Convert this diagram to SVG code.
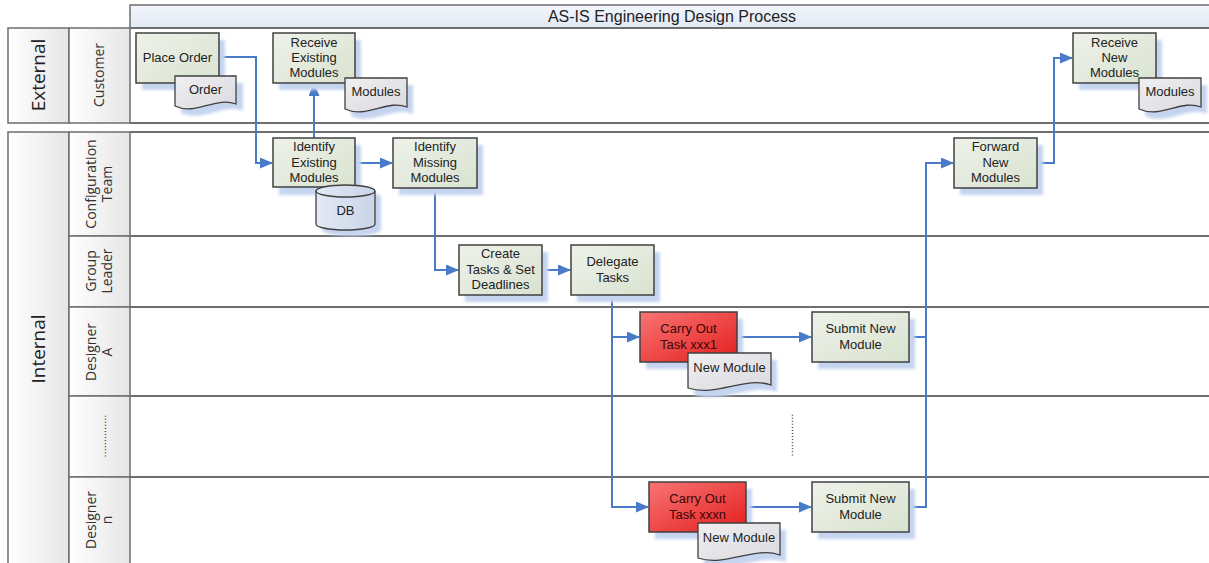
<svg xmlns="http://www.w3.org/2000/svg" width="1209" height="563" viewBox="0 0 1209 563">
<defs>
<linearGradient id="gBox" x1="0" y1="0" x2="1" y2="1"><stop offset="0" stop-color="#eef2ea"/><stop offset="1" stop-color="#d9e2cf"/></linearGradient>
<linearGradient id="gRed" x1="0" y1="0" x2="1" y2="1"><stop offset="0" stop-color="#f87474"/><stop offset="1" stop-color="#e41e1e"/></linearGradient>
<linearGradient id="gDoc" x1="0" y1="0" x2="1" y2="1"><stop offset="0" stop-color="#f0f0f2"/><stop offset="1" stop-color="#d9d9df"/></linearGradient>
<linearGradient id="gDb" x1="0" y1="0" x2="1" y2="0"><stop offset="0" stop-color="#e4eaf4"/><stop offset="1" stop-color="#c9d4e8"/></linearGradient>
<linearGradient id="gHead" x1="0" y1="0" x2="1" y2="0"><stop offset="0" stop-color="#ffffff"/><stop offset="1" stop-color="#e6e6e6"/></linearGradient>
<linearGradient id="gTitle" x1="0" y1="0" x2="0" y2="1"><stop offset="0" stop-color="#f2f5fb"/><stop offset="1" stop-color="#e2e9f5"/></linearGradient>
<filter id="blur" x="-20%" y="-20%" width="140%" height="140%"><feGaussianBlur stdDeviation="1.5"/></filter>
<marker id="arr" markerUnits="userSpaceOnUse" markerWidth="13" markerHeight="11" refX="12" refY="5.5" orient="auto"><path d="M0,0 L13,5.5 L0,11 z" fill="#4a7bc8"/></marker>
</defs>
<style>
.box{fill:url(#gBox);stroke:#404040;stroke-width:1.5}
.red{fill:url(#gRed);stroke:#404040;stroke-width:1.5}
.doc{fill:url(#gDoc);stroke:#404040;stroke-width:1.3}
.sh{fill:#c5d4ef;filter:url(#blur)}
.t{font-family:"Liberation Sans",Arial,sans-serif;font-size:13px;fill:#222;text-anchor:middle}
.tr{font-family:"Liberation Sans",Arial,sans-serif;font-size:13px;fill:#3a0808;text-anchor:middle}
.lane{stroke:#6e6e6e;stroke-width:2;fill:none}
.hd{fill:url(#gHead);stroke:#6e6e6e;stroke-width:1.5}
.big{font-family:"Open Sans","Noto Sans",sans-serif;font-size:19px;fill:#222;text-anchor:middle}
.ln{font-family:"Open Sans","Noto Sans",sans-serif;font-size:14px;fill:#333;text-anchor:middle}
.dots{font-family:"Liberation Sans",Arial,sans-serif;font-size:11px;fill:#333;text-anchor:middle}
.c{fill:none;stroke:#4a7bc8;stroke-width:2}
</style>
<rect width="1209" height="563" fill="#ffffff"/>
<g id="lanes">
<rect x="130" y="5" width="1085" height="23" fill="url(#gTitle)" stroke="#6e6e6e" stroke-width="1.5"/>
<text x="672" y="22" style="font-family:'Liberation Sans',Arial,sans-serif;font-size:16px;fill:#222;text-anchor:middle">AS-IS Engineering Design Process</text>
<rect x="8" y="28" width="61" height="95" class="hd"/>
<rect x="69" y="28" width="61" height="95" class="hd"/>
<line x1="130" y1="28" x2="1209" y2="28" class="lane"/>
<line x1="130" y1="123" x2="1209" y2="123" class="lane"/>
<rect x="8" y="132" width="61" height="440" class="hd"/>
<rect x="69" y="132" width="61" height="104" class="hd"/>
<rect x="69" y="236" width="61" height="71" class="hd"/>
<rect x="69" y="307" width="61" height="89" class="hd"/>
<rect x="69" y="396" width="61" height="81" class="hd"/>
<rect x="69" y="477" width="61" height="95" class="hd"/>
<line x1="130" y1="132" x2="1209" y2="132" class="lane"/>
<line x1="130" y1="236" x2="1209" y2="236" class="lane"/>
<line x1="130" y1="307" x2="1209" y2="307" class="lane"/>
<line x1="130" y1="396" x2="1209" y2="396" class="lane"/>
<line x1="130" y1="477" x2="1209" y2="477" class="lane"/>
<text class="big" transform="translate(45,75) rotate(-90)">External</text>
<text class="big" transform="translate(45,349) rotate(-90)">Internal</text>
<text class="ln" transform="translate(104,75) rotate(-90)">Customer</text>
<text class="ln" transform="translate(96,184) rotate(-90)">Configuration</text>
<text class="ln" transform="translate(112,184) rotate(-90)">Team</text>
<text class="ln" transform="translate(96,271) rotate(-90)">Group</text>
<text class="ln" transform="translate(112,271) rotate(-90)">Leader</text>
<text class="ln" transform="translate(96,352) rotate(-90)">Designer</text>
<text class="ln" transform="translate(112,352) rotate(-90)">A</text>
<text class="dots" transform="translate(106,436) rotate(-90)">..............</text>
<text class="ln" transform="translate(96,520) rotate(-90)">Designer</text>
<text class="ln" transform="translate(112,520) rotate(-90)">n</text>
<text class="dots" transform="translate(793,435) rotate(-90)">..............</text>
</g>
<g id="connectors">
<path class="c" d="M219,57 H256 V163 H272" marker-end="url(#arr)"/>
<path class="c" d="M314,138 V84" marker-end="url(#arr)"/>
<path class="c" d="M355,163 H392" marker-end="url(#arr)"/>
<path class="c" d="M435,188 V270 H458" marker-end="url(#arr)"/>
<path class="c" d="M542,270 H570" marker-end="url(#arr)"/>
<path class="c" d="M612,295 V507 H648" marker-end="url(#arr)"/>
<path class="c" d="M612,337 H639" marker-end="url(#arr)"/>
<path class="c" d="M737,337 H811" marker-end="url(#arr)"/>
<path class="c" d="M746,507 H811" marker-end="url(#arr)"/>
<path class="c" d="M909,337 H926"/>
<path class="c" d="M909,507 H926 V163 H953" marker-end="url(#arr)"/>
<path class="c" d="M1037,163 H1054 V58 H1072" marker-end="url(#arr)"/>
</g>
<g id="place-order">
<rect class="sh" x="142" y="40" width="83" height="50"/>
<rect class="box" x="136" y="33" width="83" height="50"/>
<text class="t" x="177.5" y="62">Place Order</text>
</g>
<g id="order-doc">
<path class="sh" d="M181,83 h62 v28 c-20,-8 -40,12 -62,2 z"/>
<path class="doc" d="M175,76 h61 v28 c-20,-8 -40,12 -61,2 z"/>
<text class="t" x="205.5" y="94">Order</text>
</g>
<g id="receive-existing">
<rect class="sh" x="279" y="40" width="82" height="50"/>
<rect class="box" x="273" y="33" width="82" height="50"/>
<text class="t" x="314" y="47">Receive</text>
<text class="t" x="314" y="62">Existing</text>
<text class="t" x="314" y="77">Modules</text>
</g>
<g id="modules-doc-1">
<path class="sh" d="M351,85 h62 v29 c-20,-8 -40,12 -62,2 z"/>
<path class="doc" d="M345,78 h62 v29 c-20,-8 -40,12 -62,2 z"/>
<text class="t" x="376" y="96">Modules</text>
</g>
<g id="identify-existing">
<rect class="sh" x="279" y="145" width="82" height="50"/>
<rect class="box" x="273" y="138" width="82" height="49"/>
<text class="t" x="314" y="151">Identify</text>
<text class="t" x="314" y="167">Existing</text>
<text class="t" x="314" y="182">Modules</text>
</g>
<g id="db">
<path class="sh" d="M322,197 A29.5,6 0 0 1 381,197 V230 A29.5,6 0 0 1 322,230 Z"/>
<path d="M316,191 A29.5,6 0 0 1 375,191 V224 A29.5,6 0 0 1 316,224 Z" fill="url(#gDb)" stroke="#404040" stroke-width="1.3"/>
<path d="M316,191 A29.5,6 0 0 0 375,191" fill="none" stroke="#404040" stroke-width="1.3"/>
<text class="t" x="345.5" y="215">DB</text>
</g>
<g id="identify-missing">
<rect class="sh" x="399" y="145" width="84" height="50"/>
<rect class="box" x="393" y="138" width="84" height="50"/>
<text class="t" x="435" y="151">Identify</text>
<text class="t" x="435" y="167">Missing</text>
<text class="t" x="435" y="182">Modules</text>
</g>
<g id="create-tasks">
<rect class="sh" x="465" y="252" width="83" height="50"/>
<rect class="box" x="459" y="245" width="83" height="50"/>
<text class="t" x="500.5" y="258">Create</text>
<text class="t" x="500.5" y="274">Tasks &amp; Set</text>
<text class="t" x="500.5" y="289">Deadlines</text>
</g>
<g id="delegate-tasks">
<rect class="sh" x="577" y="252" width="83" height="50"/>
<rect class="box" x="571" y="245" width="83" height="50"/>
<text class="t" x="612.5" y="266">Delegate</text>
<text class="t" x="612.5" y="282">Tasks</text>
</g>
<g id="carry-out-1">
<rect class="sh" x="646" y="319" width="97" height="50"/>
<rect class="red" x="640" y="312" width="97" height="50"/>
<text class="tr" x="688.5" y="333">Carry Out</text>
<text class="tr" x="688.5" y="349">Task xxx1</text>
</g>
<g id="new-module-doc-1">
<path class="sh" d="M694,360 h83 v32 c-26,-9 -54,12 -83,3 z"/>
<path class="doc" d="M688,353 h83 v32 c-26,-9 -54,12 -83,3 z"/>
<text class="t" x="729.5" y="372">New Module</text>
</g>
<g id="submit-1">
<rect class="sh" x="818" y="319" width="97" height="50"/>
<rect class="box" x="812" y="312" width="97" height="50"/>
<text class="t" x="860.5" y="333">Submit New</text>
<text class="t" x="860.5" y="349">Module</text>
</g>
<g id="carry-out-n">
<rect class="sh" x="655" y="489" width="97" height="50"/>
<rect class="red" x="649" y="482" width="97" height="50"/>
<text class="tr" x="697.5" y="503">Carry Out</text>
<text class="tr" x="697.5" y="519">Task xxxn</text>
</g>
<g id="new-module-doc-n">
<path class="sh" d="M704,530 h82 v32 c-26,-9 -54,12 -82,3 z"/>
<path class="doc" d="M698,523 h82 v32 c-26,-9 -54,12 -82,3 z"/>
<text class="t" x="739" y="542">New Module</text>
</g>
<g id="submit-n">
<rect class="sh" x="818" y="489" width="97" height="50"/>
<rect class="box" x="812" y="482" width="97" height="50"/>
<text class="t" x="860.5" y="503">Submit New</text>
<text class="t" x="860.5" y="519">Module</text>
</g>
<g id="forward-new">
<rect class="sh" x="960" y="145" width="83" height="50"/>
<rect class="box" x="954" y="138" width="83" height="50"/>
<text class="t" x="995.5" y="151">Forward</text>
<text class="t" x="995.5" y="167">New</text>
<text class="t" x="995.5" y="182">Modules</text>
</g>
<g id="receive-new">
<rect class="sh" x="1079" y="40" width="83" height="50"/>
<rect class="box" x="1073" y="33" width="83" height="50"/>
<text class="t" x="1114.5" y="47">Receive</text>
<text class="t" x="1114.5" y="62">New</text>
<text class="t" x="1114.5" y="77">Modules</text>
</g>
<g id="modules-doc-2">
<path class="sh" d="M1145,85 h62 v29 c-20,-8 -40,12 -62,2 z"/>
<path class="doc" d="M1139,78 h62 v29 c-20,-8 -40,12 -62,2 z"/>
<text class="t" x="1170" y="96">Modules</text>
</g>
</svg>
